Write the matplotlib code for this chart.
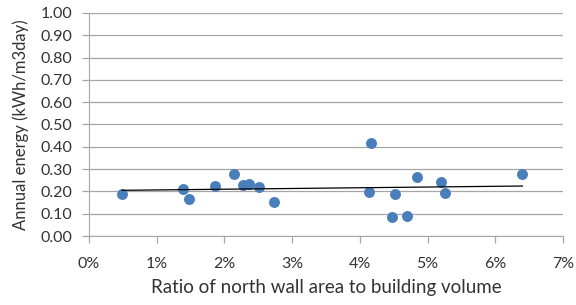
import matplotlib
matplotlib.use("Agg")
import matplotlib.pyplot as plt
import numpy as np
from matplotlib.ticker import FuncFormatter, MultipleLocator

# Data (x in %, y in kWh/m3day)
ratio_pct = [0.49, 1.39, 1.48, 1.86, 2.14, 2.28, 2.36, 2.51, 2.73,
             4.13, 4.17, 4.52, 4.48, 4.70, 4.84, 5.20, 5.26, 6.40]
annual_energy = [0.190, 0.212, 0.165, 0.226, 0.278, 0.229, 0.235, 0.218, 0.154,
                 0.196, 0.416, 0.190, 0.084, 0.088, 0.266, 0.240, 0.194, 0.277]
x_label = "Ratio of north wall area to building volume"
y_label = "Annual energy (kWh/m3day)"

plt.rcParams['font.family'] = ['Lato', 'DejaVu Sans']

fig = plt.figure(figsize=(5.76, 3.05), dpi=100)
ax = fig.add_axes([89/576, 1-236/305, (563-89)/576, (236-13)/305])

x = np.array(ratio_pct)
y = np.array(annual_energy)
ax.scatter(x, y, s=62, color='#4A7EBB', zorder=3, linewidths=0)
m, b = np.polyfit(x, y, 1)
xs = np.array([x.min(), x.max()])
ax.plot(xs, m*xs + b, color='black', lw=0.9, zorder=4)

ax.set_xlim(0, 7)
ax.set_ylim(0, 1.0)
ax.xaxis.set_major_locator(MultipleLocator(1))
ax.yaxis.set_major_locator(MultipleLocator(0.1))
ax.xaxis.set_major_formatter(FuncFormatter(lambda v, p: f"{v:.0f}%"))
ax.yaxis.set_major_formatter(FuncFormatter(lambda v, p: f"{v:.2f}"))
ax.grid(axis='y', color='#A6A6A6', lw=0.9)
ax.set_axisbelow(True)
for s in ['top', 'right']:
    ax.spines[s].set_visible(False)
for s in ['left', 'bottom']:
    ax.spines[s].set_color('#A6A6A6')
ax.tick_params(axis='both', colors='#A6A6A6', labelcolor='#333333', labelsize=11.5, length=5, width=0.9)
ax.tick_params(axis='x', pad=10)
ax.tick_params(axis='y', pad=7)
ax.set_xlabel(x_label, fontsize=13.5, color='#333333', labelpad=6)
ax.set_ylabel(y_label, fontsize=12, color='#333333', labelpad=8)

fig.savefig("out.png", dpi=100)
